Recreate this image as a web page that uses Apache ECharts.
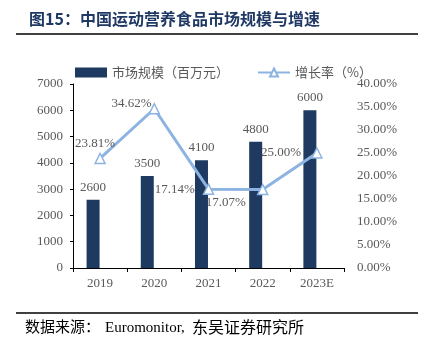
<!DOCTYPE html>
<html><head><meta charset="utf-8">
<script src="https://cdn.jsdelivr.net/npm/echarts@6/dist/echarts.min.js"></script>
<style>html,body{margin:0;padding:0;background:#fff}#c{width:427px;height:348px}</style>
</head><body><div id="c"></div>
<script>
const categories = ['2019','2020','2021','2022','2023E'];
const marketSize = [2600, 3500, 4100, 4800, 6000];
const growthRate = [23.81, 34.62, 17.14, 17.07, 25.00];
const leftTicks = [0,1000,2000,3000,4000,5000,6000,7000];
const rightTicks = [0,5,10,15,20,25,30,35,40];

const serif = '"Liberation Serif","Times New Roman",serif';
const grey = '#595959';
const chart = echarts.init(document.getElementById('c'));
const lineLabelCfg = [
  {position:'top', distance:3, offset:[-5,0]},
  {position:'left', distance:4, offset:[7,-5]},
  {position:'left', distance:8, offset:[0,0]},
  {position:'left', distance:11, offset:[0,13]},
  {position:'left', distance:10, offset:[0,0]}
];
chart.setOption({
  animation:false,
  backgroundColor:'#fff',
  title:{text:'图15：中国运动营养食品市场规模与增速',left:24,top:6,
    textStyle:{fontFamily:'"Noto Sans CJK SC",sans-serif',fontWeight:'bold',fontSize:16,color:'#1f3864'}},
  graphic:[
    {type:'line',shape:{x1:16,y1:34,x2:418,y2:34},style:{stroke:'#000',lineWidth:1.5}},
    {type:'line',shape:{x1:16,y1:313,x2:418,y2:313},style:{stroke:'#000',lineWidth:1.5}},
    {type:'text',left:25,top:319,style:{text:'数据来源：',
      font:'15px "Noto Sans CJK SC",sans-serif',fill:'#000'}},
    {type:'text',left:105,top:321,style:{text:'Euromonitor,',
      font:'15px "Liberation Serif",serif',fill:'#000'}},
    {type:'text',left:192,top:319,style:{text:'东吴证券研究所',
      font:'16px "Noto Sans CJK SC",sans-serif',fill:'#000'}}
  ],
  legend:{top:61,left:70,itemGap:28,itemWidth:32,itemHeight:10,
    textStyle:{fontFamily:'"Noto Sans CJK SC",sans-serif',fontSize:13,color:grey},
    data:[{name:'市场规模（百万元）',icon:'rect'},{name:'增长率（%）'}]},
  grid:{left:73,right:83,top:84,bottom:80},
  xAxis:{type:'category',data:categories,
    axisLine:{lineStyle:{color:'#000',width:1}},
    axisTick:{show:true,length:4,lineStyle:{color:'#000'}},
    axisLabel:{color:grey,fontFamily:serif,fontSize:13,margin:9}},
  yAxis:[
    {type:'value',min:0,max:7000,interval:1000,
      axisLine:{show:true,lineStyle:{color:'#000'}},
      axisTick:{show:true,length:3,lineStyle:{color:'#000'}},
      splitLine:{show:false},
      axisLabel:{color:grey,fontFamily:serif,fontSize:13,margin:10,formatter:v=>String(v)}},
    {type:'value',min:0,max:40,interval:5,
      axisLine:{show:false},axisTick:{show:false},splitLine:{show:false},
      axisLabel:{color:grey,fontFamily:serif,fontSize:13,margin:13,
        formatter:v=>v.toFixed(2)+'%'}}
  ],
  series:[
    {name:'市场规模（百万元）',type:'bar',data:marketSize,barWidth:13,barGap:'8%',z:1,
      itemStyle:{color:'#1f3a60'},
      label:{show:true,position:'top',distance:6,color:grey,fontFamily:serif,fontSize:13}},
    {name:'placeholder',type:'bar',data:[],barWidth:13,barGap:'8%',z:1},
    {name:'增长率（%）',type:'line',yAxisIndex:1,z:5,
      data:growthRate.map((v,i)=>({value:v,label:lineLabelCfg[i]})),
      symbol:'triangle',symbolSize:10,
      lineStyle:{color:'#8db3e2',width:3},
      itemStyle:{color:'#fff',borderColor:'#8db3e2',borderWidth:1.5},
      label:{show:true,color:grey,fontFamily:serif,fontSize:13,
        formatter:p=>p.value.toFixed(2)+'%'}}
  ]
});
</script></body></html>
